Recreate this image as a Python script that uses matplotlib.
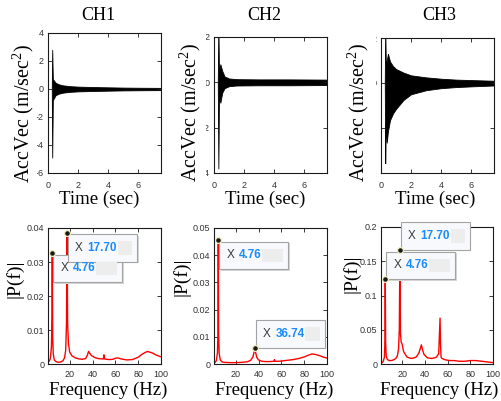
import matplotlib
matplotlib.use("Agg")
import matplotlib.pyplot as plt
from matplotlib.patches import Rectangle
from matplotlib.transforms import Bbox, TransformedBbox, IdentityTransform

W, H = 502, 401
DPI = 100

plt.rcParams["mathtext.fontset"] = "custom"
plt.rcParams["mathtext.rm"] = "Liberation Serif"
plt.rcParams["mathtext.it"] = "Liberation Serif:italic"

SERIF = "Liberation Serif"
SANS = "Liberation Sans"

channels = ["CH1", "CH2", "CH3"]

# ---- time-domain acceleration: envelope of the trace (upper / lower extremes)
ch1_t = [0.25, 0.28, 0.32, 0.40, 0.50, 0.70, 1.0, 1.5, 2.0, 3.0, 4.0, 5.0, 6.0, 7.5]
ch1_hi = [0.0, 2.8, 0.7, 0.6, 0.45, 0.34, 0.26, 0.2, 0.17, 0.14, 0.12, 0.1, 0.09, 0.08]
ch1_lo = [0.0, -4.9, -0.8, -0.65, -0.45, -0.34, -0.26, -0.2, -0.17, -0.14, -0.12, -0.1, -0.09, -0.08]

ch2_t = [0.25, 0.29, 0.33, 0.42, 0.55, 0.70, 1.0, 1.5, 3.0, 5.0, 7.5]
ch2_hi = [0.0, 2.6, 0.5, 0.8, 0.5, 0.26, 0.17, 0.14, 0.13, 0.13, 0.12]
ch2_lo = [0.0, -3.8, -0.6, -0.9, -0.45, -0.26, -0.17, -0.14, -0.13, -0.13, -0.12]

ch3_t = [0.25, 0.28, 0.32, 0.38, 0.46, 0.60, 0.80, 1.0, 1.5, 2.0, 3.0, 4.0, 5.0, 6.0, 7.5]
ch3_hi = [0.0, 2.6, 0.8, 1.0, 1.3, 0.95, 0.75, 0.62, 0.46, 0.34, 0.25, 0.19, 0.15, 0.13, 0.1]
ch3_lo = [0.0, -3.56, -1.8, -2.65, -2.15, -1.65, -1.35, -1.15, -0.75, -0.5, -0.32, -0.23, -0.18, -0.15, -0.11]

time_ylim = [(-6, 4), (-4, 2), (-4, 2)]
time_yticks = [[-6, -4, -2, 0, 2, 4], [-4, -2, 0, 2], [-4, -2, 0, 2]]
time_xticks = [0, 2, 4, 6]

# ---- single-sided amplitude spectra |P(f)|
ch1_f = [1.0, 2.0, 3.0, 4.0, 4.5, 4.76, 5.1, 5.6, 6.5, 8, 10, 12, 14, 15.5, 16.5, 17.2, 17.70,
         18.2, 18.9, 20, 22, 25, 28, 31, 34, 35.5, 36.5, 37.5, 39, 42, 45, 48, 49.6, 50, 50.4,
         52, 55, 58, 60, 62, 65, 70, 75, 80, 84, 88, 92, 96, 100]
ch1_p = [0.0012, 0.0008, 0.0015, 0.005, 0.014, 0.0326, 0.008, 0.003, 0.0012, 0.0007, 0.0005,
         0.0006, 0.0009, 0.0018, 0.004, 0.012, 0.0386, 0.012, 0.006, 0.0035, 0.0024, 0.0018,
         0.0015, 0.0014, 0.0016, 0.0026, 0.0037, 0.0032, 0.0025, 0.0019, 0.0016, 0.0015, 0.0015,
         0.0027, 0.0015, 0.0014, 0.0013, 0.0014, 0.0017, 0.0018, 0.0015, 0.0012, 0.0013, 0.002,
         0.003, 0.0037, 0.0033, 0.0026, 0.0021]

ch2_f = [1.0, 2.0, 3.0, 4.0, 4.5, 4.76, 5.0, 5.5, 6.5, 8, 10, 15, 20, 25, 30, 33, 35, 36.2,
         36.74, 37.3, 38.5, 40, 43, 46, 50, 53.5, 54, 54.5, 58, 62, 66, 70, 75, 80, 84, 87, 90,
         94, 97, 100]
ch2_p = [0.0004, 0.0006, 0.0012, 0.004, 0.012, 0.0455, 0.012, 0.004, 0.0015, 0.0008, 0.0006,
         0.0005, 0.0005, 0.0006, 0.0008, 0.0013, 0.0025, 0.0045, 0.0059, 0.0045, 0.0024, 0.0015,
         0.001, 0.0009, 0.0009, 0.001, 0.0016, 0.001, 0.001, 0.0012, 0.0014, 0.0016, 0.002,
         0.0026, 0.0033, 0.0037, 0.0035, 0.003, 0.0025, 0.0022]

ch3_f = [1.0, 2.0, 3.0, 4.0, 4.5, 4.76, 5.1, 5.6, 6.5, 8, 10, 12, 14, 15.5, 16.5, 17.2, 17.70,
         18.2, 18.8, 19.5, 21, 24, 28, 32, 34.5, 36, 36.7, 37.5, 39, 42, 46, 50, 52, 53.2, 53.6,
         54.1, 55, 58, 62, 66, 70, 75, 80, 85, 90, 95, 100]
ch3_p = [0.002, 0.002, 0.004, 0.01, 0.035, 0.124, 0.03, 0.012, 0.007, 0.005, 0.005, 0.006,
         0.008, 0.012, 0.022, 0.05, 0.167, 0.045, 0.032, 0.03, 0.018, 0.01, 0.008, 0.01, 0.016,
         0.024, 0.028, 0.022, 0.014, 0.009, 0.008, 0.01, 0.015, 0.067, 0.03, 0.01, 0.008, 0.006,
         0.005, 0.005, 0.004, 0.004, 0.005, 0.005, 0.004, 0.003, 0.002]

spec_ylim = [0.04, 0.05, 0.2]
spec_yticks = [[0, 0.01, 0.02, 0.03, 0.04],
               [0, 0.01, 0.02, 0.03, 0.04, 0.05],
               [0, 0.05, 0.1, 0.15, 0.2]]
spec_xticks = [20, 40, 60, 80, 100]

# data tips: (frequency, box side)
ch1_tips = [(4.76, "below"), (17.70, "below")]
ch2_tips = [(4.76, "below"), (36.74, "above")]
ch3_tips = [(4.76, "above"), (17.70, "above")]

time_data = [(ch1_t, ch1_hi, ch1_lo), (ch2_t, ch2_hi, ch2_lo), (ch3_t, ch3_hi, ch3_lo)]
spec_data = [(ch1_f, ch1_p, ch1_tips), (ch2_f, ch2_p, ch2_tips), (ch3_f, ch3_p, ch3_tips)]

# ---- layout in pixels: (left, top, right, bottom)
top_boxes = [(48, 33, 161, 173), (214, 37, 327, 173), (381, 38, 494, 173)]
bot_boxes = [(48, 228, 161, 364), (214, 228, 327, 364), (381, 227, 493, 364)]
title_pos = [(98, 20), (264, 20), (439, 20)]
acc_label_pos = [(23, 114), (190, 113), (358, 113)]
time_label_pos = [(99, 204), (265, 204), (435, 204)]
pf_label_pos = [(15, 279), (182, 277), (352, 274)]
freq_label_pos = [(108, 395), (274, 395), (439, 395)]
tick_clip_left = [37, 206, 376]

fig = plt.figure(figsize=(W / DPI, H / DPI), dpi=DPI)
fig.patch.set_facecolor("white")


def px_axes(box):
    l, t, r, b = box
    return fig.add_axes([l / W, 1 - b / H, (r - l) / W, (b - t) / H])


def ftext(pos, s, **kw):
    x, y = pos
    return fig.text(x / W, 1 - y / H, s, family=SERIF, **kw)


def style_axes(ax, xpad, ypad):
    for sp in ax.spines.values():
        sp.set_color("#1a1a1a")
        sp.set_linewidth(0.8)
    ax.tick_params(direction="in", length=3, width=0.6, top=True, right=True,
                   labelsize=6.5, labelcolor="#333333", colors="#1a1a1a")
    ax.tick_params(axis="x", pad=xpad)
    ax.tick_params(axis="y", pad=ypad)
    for lab in ax.get_xticklabels() + ax.get_yticklabels():
        lab.set_family(SANS)
        lab.set_color("#333333")


# ---- top row: acceleration time histories
for i, (t, hi, lo) in enumerate(time_data):
    ax = px_axes(top_boxes[i])
    ax.fill_between(t, lo, hi, facecolor="black", edgecolor="black", lw=0.6)
    ax.set_xlim(0, 7.5)
    ax.set_ylim(*time_ylim[i])
    ax.set_xticks(time_xticks)
    ax.set_yticks(time_yticks[i])
    ax.set_xticklabels([str(v) for v in time_xticks])
    ax.set_yticklabels([str(v) for v in time_yticks[i]])
    style_axes(ax, 5.5, 3.3)
    clip = TransformedBbox(Bbox.from_extents(tick_clip_left[i] / W, 0, 1, 1), fig.transFigure)
    for tk in ax.yaxis.get_major_ticks():
        tk.label1.set_clip_box(clip)
        tk.label1.set_clip_on(True)
    ftext(title_pos[i], channels[i], fontsize=13, ha="center", va="baseline")
    ftext(acc_label_pos[i], "AccVec (m/sec$^2$)", fontsize=14.5, rotation=90,
          ha="center", va="center")
    ftext(time_label_pos[i], "Time (sec)", fontsize=13.5, ha="center", va="baseline")

# ---- bottom row: spectra with data tips
renderer = fig.canvas.get_renderer()
BW, BH = 69, 27.5

for i, (f, p, tips) in enumerate(spec_data):
    ax = px_axes(bot_boxes[i])
    ax.plot(f, p, color="#ff0000", lw=1.0)
    ax.set_xlim(1, 100)
    ax.set_ylim(0, spec_ylim[i])
    ax.set_xticks(spec_xticks)
    ax.set_yticks(spec_yticks[i])
    ax.set_xticklabels([str(v) for v in spec_xticks])
    ax.set_yticklabels(["%g" % v for v in spec_yticks[i]])
    style_axes(ax, 4.5, 2.6)
    bg = dict(facecolor="white", edgecolor="none", pad=0) if i == 1 else None
    ftext(pf_label_pos[i], "|P(f)|", fontsize=14, rotation=90, ha="center", va="center",
          bbox=bg, zorder=5)
    ftext(freq_label_pos[i], "Frequency (Hz)", fontsize=13.5, ha="center", va="baseline")

    for freq, side in tips:
        k = f.index(freq)
        x, y = ax.transData.transform((f[k], p[k]))
        x0 = x + 1
        y0 = y - 1.5 - BH if side == "below" else y
        idt = IdentityTransform()
        ax.add_patch(Rectangle((x0 + 1.5, y0 - 1.5), BW, BH, transform=idt,
                               facecolor="#d6d6d6", edgecolor="none", clip_on=False, zorder=5))
        ax.add_patch(Rectangle((x0, y0), BW, BH, transform=idt, facecolor="#f8f9fc",
                               edgecolor="#a3a3a3", lw=0.8, clip_on=False, zorder=6))
        ax.text(x0 + 7, y0 + BH / 2, "X", transform=idt, family=SANS, fontsize=8.5,
                color="#3a3a3a", ha="left", va="center", clip_on=False, zorder=7)
        tv = ax.text(x0 + 19.5, y0 + BH / 2, "%.2f" % f[k], transform=idt, family=SANS,
                     fontsize=8.5, fontweight="bold", color="#1a8cff", ha="left",
                     va="center", clip_on=False, zorder=7)
        x_end = tv.get_window_extent(renderer).x1
        ax.add_patch(Rectangle((x_end + 1, y0 + 7), x0 + BW - 5 - x_end - 1, BH - 14,
                               transform=idt, facecolor="#ededee", edgecolor="none",
                               clip_on=False, zorder=7))
        ax.plot([f[k]], [p[k]], "o", ms=4.2, mfc="#1a1a1a", mec="#f4efbf", mew=0.9,
                clip_on=False, zorder=8)

fig.savefig("out.png", dpi=DPI, facecolor="white")
